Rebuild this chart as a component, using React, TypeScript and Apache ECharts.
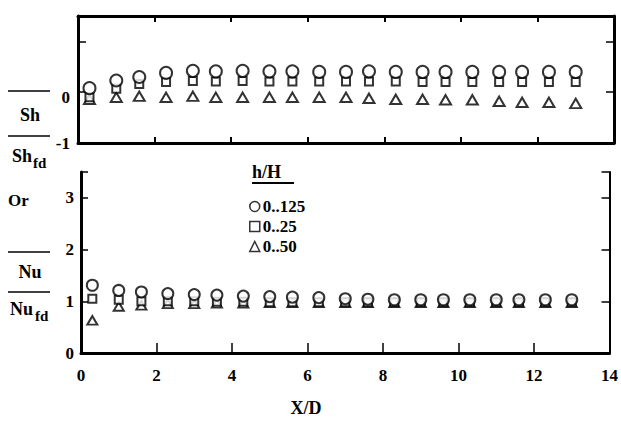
import React, { useEffect, useRef } from "react";
import * as echarts from "echarts";

const xPositions = [0.3, 1.0, 1.6, 2.3, 3.0, 3.6, 4.3, 5.0, 5.6, 6.3, 7.0, 7.6, 8.3, 9.0, 9.6, 10.3, 11.0, 11.6, 12.3, 13.0];

// Upper panel: Sh / Sh_fd
const shCircle = [0.08, 0.23, 0.3, 0.38, 0.42, 0.41, 0.42, 0.41, 0.41, 0.4, 0.4, 0.41, 0.4, 0.4, 0.4, 0.4, 0.4, 0.4, 0.4, 0.4];
const shSquare = [-0.1, 0.07, 0.16, 0.2, 0.22, 0.21, 0.22, 0.21, 0.21, 0.21, 0.21, 0.21, 0.21, 0.2, 0.2, 0.2, 0.2, 0.2, 0.2, 0.2];
const shTriangle = [-0.14, -0.1, -0.08, -0.1, -0.08, -0.1, -0.1, -0.1, -0.1, -0.1, -0.1, -0.12, -0.14, -0.14, -0.15, -0.15, -0.18, -0.2, -0.2, -0.22];

// Lower panel: Nu / Nu_fd
const nuCircle = [1.31, 1.21, 1.18, 1.15, 1.13, 1.12, 1.1, 1.09, 1.08, 1.07, 1.05, 1.04, 1.03, 1.03, 1.03, 1.03, 1.03, 1.03, 1.03, 1.03];
const nuSquare = [1.05, 1.03, 1.0, 1.0, 1.0, 0.99, 0.99, 0.98, 0.98, 0.98, 0.98, 0.98, 0.98, 0.98, 0.98, 0.98, 0.98, 0.98, 0.98, 0.98];
const nuTriangle = [0.63, 0.9, 0.92, 0.95, 0.95, 0.96, 0.96, 0.97, 0.97, 0.97, 0.97, 0.97, 0.97, 0.97, 0.97, 0.97, 0.97, 0.97, 0.97, 0.97];

const legendNames = ["0..125", "0..25", "0..50"];
const topYLabels = ["-1", "0"];
const lowerYLabels = ["0", "1", "2", "3"];

const FONT = "Liberation Serif";
const pair = (ys: number[]) => xPositions.map((x, i) => [x, ys[i]]);

export default function App() {
  const ref = useRef<HTMLDivElement>(null);
  useEffect(() => {
    if (!ref.current) return;
    const chart = echarts.init(ref.current, undefined, { renderer: "svg" });
    const black = "#000";
    const mk = (style: any) => ({ color: "#fff", borderColor: black, borderWidth: 2, ...style });
    const baseX = {
      type: "value",
      min: 0,
      max: 14,
      interval: 2,
      splitLine: { show: false },
      axisLine: { show: true, onZero: false, lineStyle: { color: black, width: 3 } },
    };
    const series: any[] = [];
    const addSet = (idx: number, tri: number[], sq: number[], ci: number[], sizes: number[]) => {
      const ax = idx === 0 ? 0 : 2;
      series.push({
        name: legendNames[2], type: "scatter", xAxisIndex: ax, yAxisIndex: ax,
        symbol: "triangle", symbolSize: [sizes[2], sizes[2] * 0.85], data: pair(tri), itemStyle: mk({}), z: 2,
      });
      series.push({
        name: legendNames[1], type: "scatter", xAxisIndex: ax, yAxisIndex: ax,
        symbol: "rect", symbolSize: sizes[1], data: pair(sq), itemStyle: mk({}), z: 3,
      });
      series.push({
        name: legendNames[0], type: "scatter", xAxisIndex: ax, yAxisIndex: ax,
        symbol: "circle", symbolSize: sizes[0], data: pair(ci), itemStyle: mk({}), z: 4,
      });
    };
    addSet(0, shTriangle, shSquare, shCircle, [12, 8, 11]);
    addSet(1, nuTriangle, nuSquare, nuCircle, [11, 8, 10]);

    const txt = (text: string, x: number, y: number, size = 17, align = "left") => ({
      type: "text",
      x,
      y,
      style: { text, fill: black, font: `bold ${size}px "${FONT}"`, align, verticalAlign: "middle" },
    });
    const ln = (x1: number, y1: number, x2: number, y2: number, w = 1.5) => ({
      type: "line",
      shape: { x1, y1, x2, y2 },
      style: { stroke: black, lineWidth: w },
    });
    const labelFont = { color: black, fontFamily: FONT, fontWeight: "bold", fontSize: 17 };

    chart.setOption({
      animation: false,
      backgroundColor: "#fff",
      textStyle: { fontFamily: FONT },
      grid: [
        { left: 78, top: 16, width: 536, height: 127 },
        { left: 81, top: 172, width: 538, height: 181 },
      ],
      xAxis: [
        { ...baseX, gridIndex: 0, position: "bottom", axisTick: { inside: true, length: 6, lineStyle: { width: 2 } }, axisLabel: { show: false } },
        { ...baseX, gridIndex: 0, position: "top", axisTick: { inside: true, length: 6, lineStyle: { width: 2 } }, axisLabel: { show: false } },
        {
          ...baseX, gridIndex: 1, position: "bottom",
          axisTick: { inside: true, length: 10, lineStyle: { width: 1.5 } },
          axisLabel: { margin: 14, ...labelFont },
        },
      ],
      yAxis: [
        {
          type: "value", gridIndex: 0, position: "left", min: -1, max: 1.5, interval: 1,
          splitLine: { show: false },
          axisLine: { show: true, onZero: false, lineStyle: { color: black, width: 3 } },
          axisTick: { inside: true, length: 8, lineStyle: { width: 1.5 } },
          axisLabel: {
            margin: 8, ...labelFont,
            formatter: (v: number) => {
              const s = String(v);
              if (!topYLabels.includes(s)) return "";
              return v === 0 ? `{z|${s}}` : s;
            },
            rich: { z: { ...labelFont, padding: [10, 0, 0, 0] } },
          },
        },
        {
          type: "value", gridIndex: 0, position: "right", min: -1, max: 1.5, interval: 1,
          splitLine: { show: false },
          axisLine: { show: true, onZero: false, lineStyle: { color: black, width: 3 } },
          axisTick: { inside: true, length: 8, lineStyle: { width: 1.5 } },
          axisLabel: { show: false },
        },
        {
          type: "value", gridIndex: 1, position: "left", min: 0, max: 3.5, interval: 1,
          splitLine: { show: false },
          axisLine: { show: true, onZero: false, lineStyle: { color: black, width: 3 } },
          axisTick: { inside: true, length: 7, lineStyle: { width: 1.5 } },
          axisLabel: {
            margin: 7, ...labelFont,
            formatter: (v: number) => (lowerYLabels.includes(String(v)) ? String(v) : ""),
          },
        },
        {
          type: "value", gridIndex: 1, position: "right", min: 0, max: 3.5, interval: 1,
          splitLine: { show: false },
          axisLine: { show: true, onZero: false, lineStyle: { color: black, width: 2 } },
          axisTick: { inside: true, length: 8, lineStyle: { width: 1.5 } },
          axisLabel: { show: false },
        },
      ],
      legend: {
        orient: "vertical",
        left: 249,
        top: 198,
        data: legendNames,
        itemWidth: 10,
        itemHeight: 10,
        itemGap: 3,
        padding: 0,
        itemStyle: { color: "#fff", borderColor: black, borderWidth: 1.5 },
        textStyle: { ...labelFont, lineHeight: 16, padding: [0, 0, 0, -2] },
        selectedMode: false,
      },
      graphic: [
        ln(8, 91, 50, 91),
        txt("Sh", 30, 115, 18, "center"),
        ln(8, 136, 50, 136),
        txt("Sh", 12, 156, 18),
        txt("fd", 33, 163, 15),
        txt("Or", 8, 200, 17),
        ln(8, 252, 50, 252),
        txt("Nu", 30, 272, 18, "center"),
        ln(8, 292, 50, 292),
        txt("Nu", 10, 309, 18),
        txt("fd", 35, 316, 15),
        txt("h/H", 252, 172, 18),
        ln(252, 183, 294, 183, 2),
        txt("X/D", 306, 408, 18, "center"),
      ],
      series,
    });
    return () => chart.dispose();
  }, []);
  return <div ref={ref} style={{ position: "fixed", left: 0, top: 0, width: 621, height: 424 }} />;
}
